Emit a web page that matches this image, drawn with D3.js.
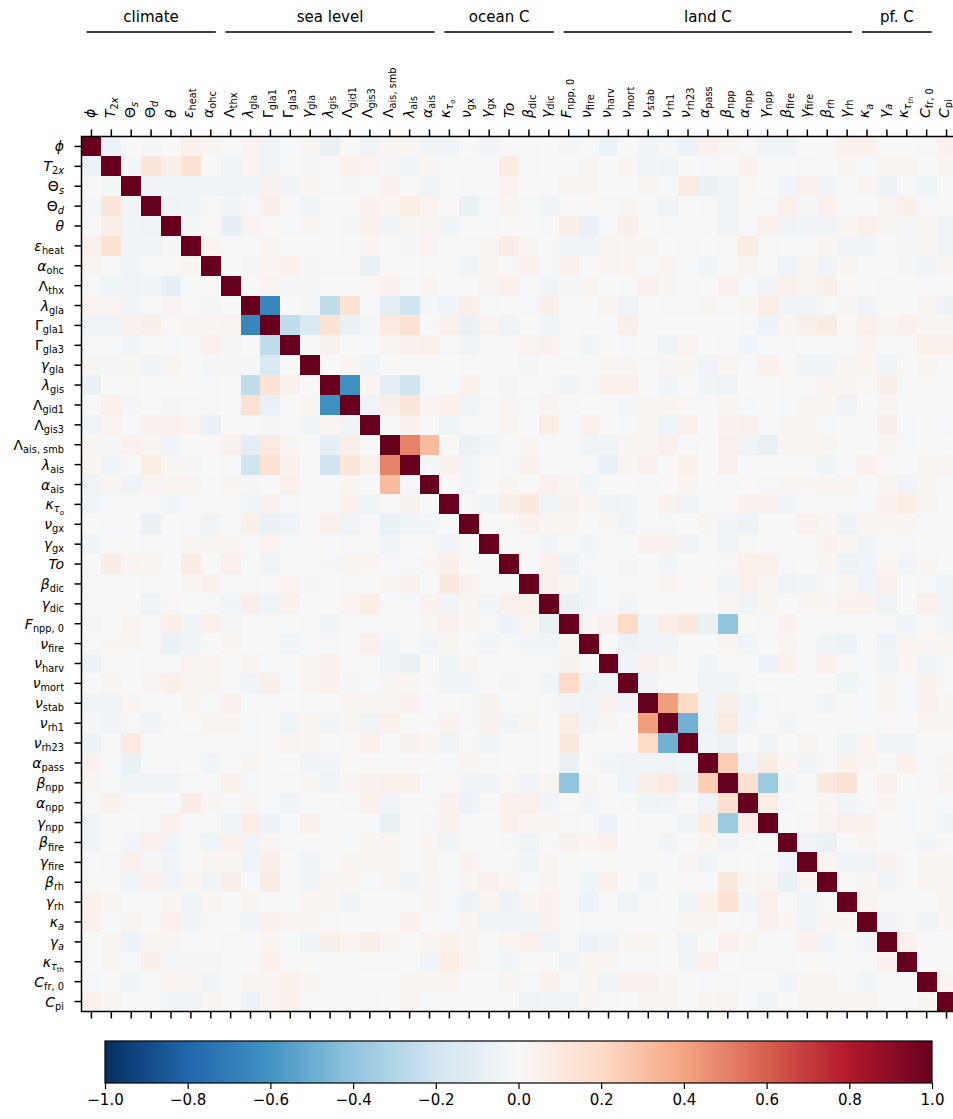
<!DOCTYPE html>
<html><head><meta charset="utf-8">
<script src="https://cdn.jsdelivr.net/npm/d3@7"></script>
<style>body{margin:0;background:#fff;overflow:hidden} svg text{font-family:"DejaVu Sans",sans-serif;fill:#000}</style>
</head><body><svg id="c" width="953" height="1119"></svg>
<script>
// ---- labels (segments: [text, style]); styles: i=italic, r=roman, s=sub roman, si=sub italic, ss=subsub roman, ssi=subsub italic
const labels = [
  [["ϕ","i"]],
  [["T","i"],["2","s"],["x","si"]],
  [["Θ","r"],["s","si"]],
  [["Θ","r"],["d","si"]],
  [["θ","i"]],
  [["ε","i"],["heat","s"]],
  [["α","i"],["ohc","s"]],
  [["Λ","r"],["thx","s"]],
  [["λ","i"],["gla","s"]],
  [["Γ","r"],["gla1","s"]],
  [["Γ","r"],["gla3","s"]],
  [["γ","i"],["gla","s"]],
  [["λ","i"],["gis","s"]],
  [["Λ","r"],["gid1","s"]],
  [["Λ","r"],["gis3","s"]],
  [["Λ","r"],["ais, smb","s"]],
  [["λ","i"],["ais","s"]],
  [["α","i"],["ais","s"]],
  [["κ","i"],["τ","si"],["o","ssi"]],
  [["ν","i"],["gx","s"]],
  [["γ","i"],["gx","s"]],
  [["To","i"]],
  [["β","i"],["dic","s"]],
  [["γ","i"],["dic","s"]],
  [["F","i"],["npp, 0","s"]],
  [["ν","i"],["fire","s"]],
  [["ν","i"],["harv","s"]],
  [["ν","i"],["mort","s"]],
  [["ν","i"],["stab","s"]],
  [["ν","i"],["rh1","s"]],
  [["ν","i"],["rh23","s"]],
  [["α","i"],["pass","s"]],
  [["β","i"],["npp","s"]],
  [["α","i"],["npp","s"]],
  [["γ","i"],["npp","s"]],
  [["β","i"],["fire","s"]],
  [["γ","i"],["fire","s"]],
  [["β","i"],["rh","s"]],
  [["γ","i"],["rh","s"]],
  [["κ","i"],["a","si"]],
  [["γ","i"],["a","si"]],
  [["κ","i"],["τ","si"],["th","ss"]],
  [["C","i"],["fr, 0","s"]],
  [["C","i"],["pi","s"]]
];

// ---- groups (by first / last variable index)
const groupNames = ["climate","sea level","ocean C","land C","pf. C"];
const groupFirst = [0, 7, 18, 24, 39];
const groupLast  = [6, 17, 23, 38, 42];

// ---- correlation matrix, lower triangle (row r holds columns 0..r-1); diagonal = 1
const corrLower = [
  [],
  [-0.06],
  [0,-0.02],
  [-0.02,0.12,-0.03],
  [0,0.06,-0.03,-0.04],
  [0.05,0.15,-0.03,-0.03,-0.02],
  [0.02,0,-0.04,0,0.01,0.02],
  [-0.01,-0.05,-0.04,-0.03,-0.09,-0.01,0],
  [0.03,0.03,-0.03,-0.01,0.03,-0.01,-0.02,0],
  [-0.04,-0.04,0.04,0.06,0.01,0.02,0.02,0.03,-0.66],
  [-0.01,-0.01,-0.03,0,-0.01,0,0.05,-0.02,0,-0.25],
  [0.02,-0.02,0.02,-0.05,0.02,0,-0.02,-0.02,-0.02,-0.15,0],
  [-0.07,0,-0.01,0,0,0,-0.01,0,-0.25,0.14,0.04,0],
  [0,0.05,-0.02,0,-0.02,-0.01,0.01,0,0.15,-0.07,0,0.02,-0.62],
  [-0.04,0.03,-0.01,0.04,0.04,0.03,-0.07,0.01,-0.01,-0.02,-0.01,-0.03,0.02,-0.04],
  [0.02,-0.02,0.04,0.03,-0.03,0,0.01,0.04,-0.10,0.09,0.02,0,-0.10,0.06,0],
  [0.02,-0.03,0,0.07,0.02,-0.02,0,-0.01,-0.20,0.15,0.04,0,-0.20,0.12,0.05, 0.5],
  [-0.04,0.02,-0.04,0.03,0.03,0.03,-0.01,0.02,-0.02,0,0.05,0,-0.01,0.02,0, 0.32,-0.01],
  [-0.04,-0.01,0,0,-0.03,-0.01,0,0,-0.03,0.04,-0.01,0,0,0.05,-0.05, 0,0.04,0],
  [0,-0.01,-0.01,-0.07,0,-0.01,-0.04,0,0.06,-0.07,-0.04,0.01,0.05,-0.04,-0.01, -0.07,-0.03,-0.03,0],
  [-0.03,0,0,-0.01,-0.01,0.02,0.02,0.02,-0.01,0.03,0,0,0,-0.01,-0.01, -0.03,0,0,-0.03,0],
  [0,0.08,0.03,0.02,0,0.08,0,0.05,0,-0.04,0,0,-0.02,0.02,0.02, -0.01,-0.01,0.02,0.06,0,0],
  [-0.01,-0.01,0,-0.01,0,0.02,0.04,-0.01,-0.01,0,0.03,-0.02,0,-0.01,0, 0.02,0.04,0,0.10,0.04,0,0],
  [0,0,0,-0.05,0.01,0,-0.01,-0.03,0.06,-0.05,0.04,0,0,0.03,0.07, -0.01,-0.01,0.04,-0.03,0.02,-0.03,0.05,0.05],
  [-0.02,0,0.02,-0.01,0.06,-0.03,0.05,-0.02,0,0,0,-0.01,-0.03,-0.01,-0.01, -0.01,-0.01,0.02,0.04,0.02,-0.01,-0.06,0.02,-0.08],
  [-0.01,0.02,0.02,0.01,-0.07,-0.03,0,0.02,0,0,-0.03,-0.01,-0.01,0,0.05, -0.03,-0.01,-0.03,0.02,0,-0.03,-0.01,-0.03,-0.03,0.02],
  [-0.06,0,0,-0.01,-0.01,0.03,0.03,0,0.02,-0.01,0,0.02,0.05,0,0, -0.03,-0.08,0,-0.05,0.02,0,0,-0.01,-0.01,0.04,0],
  [0,0.02,0,0.02,0.06,0.02,0.02,-0.01,-0.04,0.06,-0.01,0.02,0.05,-0.02,-0.01, 0.02,0.02,0,-0.03,-0.03,0,-0.02,-0.01,-0.03,0.20,-0.06,-0.03],
  [-0.03,-0.03,0.02,-0.01,0,0.02,-0.01,0.05,0,0,0,-0.01,0,0.02,0.02, 0.02,0.04,-0.01,0,-0.01,0.04,0,0.01,0,-0.03,-0.04,0.04,-0.03],
  [-0.02,-0.04,-0.01,-0.04,-0.01,0,0.02,0.02,-0.01,0,-0.05,0.02,-0.03,0.02,-0.05, 0.05,0,0,0.04,-0.01,0.04,-0.03,0.02,0,0.07,-0.04,0.02,0,0.42],
  [-0.06,0,0.09,0,0.01,0.01,-0.01,-0.01,-0.01,0,0.03,0.02,0,0.01,0.05, -0.01,0.04,0.02,-0.04,0,-0.03,0,0.01,0,0.10,0,0,0,0.20,-0.48],
  [0.04,-0.01,-0.07,-0.01,-0.01,0,-0.03,0,0.02,0,0,-0.03,-0.03,0.01,0, 0,0,0,-0.01,0.02,-0.01,0,0.01,0,-0.08,0,-0.03,-0.04,-0.04,-0.04,-0.03],
  [0.02,-0.01,-0.04,-0.04,-0.04,0.01,0,0.05,-0.01,0,0.01,0.02,-0.04,0.02,0.04, 0.05,0.05,-0.01,0.01,-0.03,-0.03,0.01,-0.03,0.03,-0.40,0.02,0,-0.05,0.06,0.09,-0.06,0.25],
  [0.01,0.04,0.01,0.01,-0.01,0.08,0.02,-0.01,0.02,-0.01,-0.03,-0.01,0,-0.01,0.05, -0.05,0,0,0.04,-0.06,0.01,0.05,0.05,-0.03,0,-0.03,0,-0.01,-0.05,-0.03,0,-0.04,0.16],
  [-0.04,0,0,-0.01,0.05,-0.01,0,-0.04,0.07,-0.06,-0.01,0.05,0,0,-0.01, -0.08,0,-0.01,0.04,0,0,0.05,0.02,0.02,-0.01,0,-0.06,0,-0.01,-0.01,-0.03,0.08,-0.37,0.07],
  [-0.05,0,-0.03,0.05,-0.04,0,-0.05,0.05,-0.04,0.02,-0.01,0.01,0.01,-0.01,0.02, 0.02,0,0.02,-0.03,0,0,-0.01,-0.05,0,0.04,0.02,0.05,0,0,-0.03,0,0.02,-0.03,-0.01,0],
  [0,-0.01,0.05,-0.02,-0.03,0,0.02,0.02,-0.04,0.06,0,-0.04,-0.01,0.02,0.02, 0.02,0,0.02,0,0.04,0,0,-0.03,0.02,0,0,0,0,0, 0,0.02,-0.03,-0.01,0,0.01,-0.03],
  [0,0,-0.05,0.05,-0.04,0.02,-0.03,0.06,-0.01,0.08,-0.01,-0.03,0.02,0.02,-0.01, 0.02,-0.05,0.02,-0.01,0.02,0.04,0.02,-0.01,0.02,0,-0.05,0.05,0,-0.03, 0,0,0,0.10,0.02,0.03,-0.07,0.02],
  [0.04,0.02,0,0,0.02,-0.03,0.02,0,0.02,0.01,-0.01,0.02,0.02,-0.04,0, 0,0,0.02,-0.01,-0.06,0.02,-0.06,0.02,0.04,0,-0.06,0,-0.05,-0.01, 0,-0.05,0.05,0.15,-0.03,0.05,0,-0.05,-0.01],
  [0.05,-0.01,0.02,0,0.05,-0.03,0,0,-0.04,0.05,0.02,0.02,0.01,0,0, 0,0.05,0,-0.01,0.02,-0.03,-0.03,-0.03,0.04,0,-0.01,-0.01,-0.01,-0.01, -0.01,0.02,0.02,0,-0.01,0.04,0.02,-0.04,0.02,0.02],
  [0,0.02,-0.06,0.02,0.02,-0.01,0,0.01,0,0.02,-0.01,-0.05,0.06,0.02,0.06, 0.02,0.01,0.02,0.05,0.02,0,0.02,0.05,-0.05,0,-0.06,-0.03,0.02,0.02, 0.01,-0.04,0,0.05,0.02,0,0,0.04,-0.03,0,-0.03],
  [0,0.02,-0.01,0.06,-0.02,-0.02,-0.02,0,0,0.05,0,0,0,0,-0.01, -0.01,0,-0.03,0.07,0.02,-0.01,-0.03,0,0,-0.05,0.02,0.02,-0.01,-0.01, 0,-0.04,0.05,0,-0.01,-0.01,-0.01,0,0,0,0,0.05],
  [-0.01,0,-0.05,-0.01,0.02,0.02,-0.04,0,0.02,0.02,0.05,0.02,0,0,0, 0,0.02,0.02,0.02,-0.01,0,0.02,-0.01,0.05,0,0.02,-0.03,0.04,0.04, 0.02,0,-0.01,-0.01,0,0,-0.03,0.02,0.02,0,-0.03,0,0],
  [0.04,0.02,0,0,-0.03,-0.03,0.02,0,-0.06,0.02,0.05,0,0,0,-0.01, 0,0.03,-0.01,0,0,0,0,-0.05,-0.03,-0.03,0.02,-0.01,0,0.02, 0.02,0,0.02,0.03,-0.01,-0.03,0,0.02,0.02,0.02,0.02,0,0,0.02]
];

// ---- colorbar
const cbarTicks = [-1.0,-0.8,-0.6,-0.4,-0.2,0.0,0.2,0.4,0.6,0.8,1.0];
const rdbuStops = ["#053061","#2166ac","#4393c3","#92c5de","#d1e5f0","#f7f7f7","#fddbc7","#f4a582","#d6604d","#b2182b","#67001f"];

(function () {
const n = labels.length;
const M = d3.range(n).map(i => d3.range(n).map(j => i === j ? 1 : (i > j ? corrLower[i][j] : corrLower[j][i])));

const color = d3.scaleLinear().domain(cbarTicks).range(rdbuStops).interpolate(d3.interpolateRgb).clamp(true);

const svg = d3.select("#c");
const L = 81.5, T = 136.5, cell = 19.886;
const x = d3.scaleBand().domain(d3.range(n)).range([L, L + n*cell]);
const y = d3.scaleBand().domain(d3.range(n)).range([T, T + n*cell]);

const cells = [];
for (let i = 0; i < n; i++) for (let j = 0; j < n; j++) cells.push({i, j, v: M[i][j]});
svg.append("g").selectAll("rect").data(cells).join("rect")
  .attr("x", d => x(d.j)).attr("y", d => y(d.i))
  .attr("width", x.bandwidth() + 0.3).attr("height", y.bandwidth() + 0.3)
  .attr("fill", d => color(d.v)).attr("shape-rendering", "crispEdges");

// frame
const R = L + n*cell, B = T + n*cell;
svg.append("path").attr("d", `M${R},${T}H${L}V${B}H${R}`).attr("fill","none").attr("stroke","#000").attr("stroke-width",1.5);

const FS = 14;
function segStyle(st) {
  let size = FS, target = 0, italic = false;
  if (st === "i") italic = true;
  if (st === "s" || st === "si") { size = FS*0.7; target = FS*0.22; italic = st === "si"; }
  if (st === "ss" || st === "ssi") { size = FS*0.5; target = FS*0.22 + FS*0.15; italic = st === "ssi"; }
  return {size, target, italic};
}
function fillLabel(sel, segs) {
  let off = 0;
  segs.forEach(([t, st]) => {
    const s = segStyle(st);
    sel.append("tspan").attr("font-size", s.size).attr("font-style", s.italic ? "italic" : "normal")
      .attr("dy", s.target - off).text(t);
    off = s.target;
  });
}
const ctx = document.createElement("canvas").getContext("2d");
function inkExtent(segs) {
  let lo = Infinity, hi = -Infinity;
  segs.forEach(([t, st]) => {
    const s = segStyle(st);
    ctx.font = `${s.italic ? "italic " : ""}${s.size}px "DejaVu Sans"`;
    const m = ctx.measureText(t);
    lo = Math.min(lo, s.target - m.actualBoundingBoxAscent);
    hi = Math.max(hi, s.target + m.actualBoundingBoxDescent);
  });
  return [lo, hi];
}

// ticks
const tickG = svg.append("g").attr("stroke","#000").attr("stroke-width",1.5);
d3.range(n).forEach(k => {
  const px = x(k) + x.bandwidth()/2, py = y(k) + y.bandwidth()/2;
  tickG.append("line").attr("x1",px).attr("x2",px).attr("y1",T).attr("y2",T-7);
  tickG.append("line").attr("x1",px).attr("x2",px).attr("y1",B).attr("y2",B+7);
  tickG.append("line").attr("x1",L).attr("x2",L-7).attr("y1",py).attr("y2",py);
});

// left labels
labels.forEach((segs, k) => {
  const py = y(k) + y.bandwidth()/2;
  const t = svg.append("text").attr("x", 64).attr("y", py + 5).attr("text-anchor","end").attr("font-size",FS);
  fillLabel(t, segs);
});
// top labels (ink box centred on the tick)
labels.forEach((segs, k) => {
  const px = x(k) + x.bandwidth()/2;
  const [lo, hi] = inkExtent(segs);
  const t = svg.append("text").attr("transform", `translate(${px},118) rotate(-90)`)
    .attr("x", 0).attr("y", -(lo + hi)/2).attr("text-anchor","start").attr("font-size",FS);
  fillLabel(t, segs);
});

// groups
groupNames.forEach((g, k) => {
  const x1 = x(groupFirst[k]) + x.bandwidth()/2 - 5;
  const x2 = x(groupLast[k]) + x.bandwidth()/2 + 5;
  svg.append("line").attr("x1",x1).attr("x2",x2).attr("y1",32).attr("y2",32).attr("stroke","#000").attr("stroke-width",1.3);
  svg.append("text").attr("x",(x1+x2)/2).attr("y",21.5).attr("text-anchor","middle").attr("font-size",15).text(g);
});

// colorbar
const cb = {x0:105, x1:932, y0:1041, y1:1083};
const grad = svg.append("defs").append("linearGradient").attr("id","g").attr("x1","0%").attr("x2","100%");
rdbuStops.forEach((c,i) => grad.append("stop").attr("offset", (i*10)+"%").attr("stop-color", c));
svg.append("rect").attr("x",cb.x0).attr("y",cb.y0).attr("width",cb.x1-cb.x0).attr("height",cb.y1-cb.y0)
  .attr("fill","url(#g)").attr("stroke","#000").attr("stroke-width",1.2);
const cs = d3.scaleLinear().domain([-1,1]).range([cb.x0, cb.x1]);
const cbAxis = svg.append("g").attr("transform",`translate(0,${cb.y1})`)
  .call(d3.axisBottom(cs).tickValues(cbarTicks).tickFormat(d3.format(".1f")).tickSize(6).tickPadding(5));
cbAxis.select(".domain").remove();
cbAxis.selectAll("line").attr("stroke","#000").attr("stroke-width",1.2);
cbAxis.selectAll("text").attr("font-size",15).attr("font-family","DejaVu Sans").attr("fill","#000");
})();
</script></body></html>
